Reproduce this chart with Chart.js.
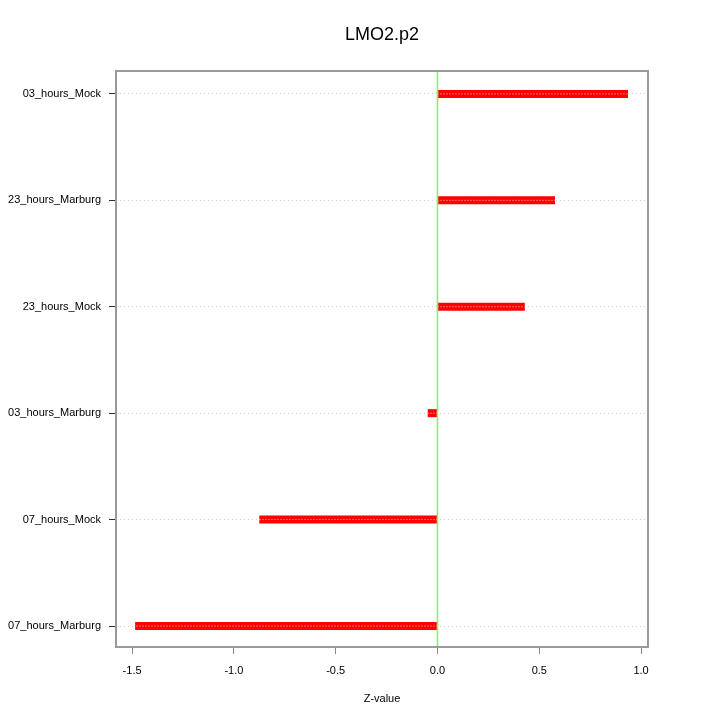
<!DOCTYPE html>
<html>
<head>
<meta charset="utf-8">
<title>LMO2.p2</title>
<script src="https://cdn.jsdelivr.net/npm/chart.js@4/dist/chart.umd.min.js"></script>
<style>
  html, body { margin: 0; padding: 0; background: #fff; }
  canvas { display: block; }
</style>
</head>
<body>
<canvas id="zChart" width="720" height="720"></canvas>
<script>
// data, bottom row first
const categories = ["07_hours_Marburg", "07_hours_Mock", "03_hours_Marburg", "23_hours_Mock", "23_hours_Marburg", "03_hours_Mock"];
const zValues = [-1.485, -0.875, -0.048, 0.429, 0.577, 0.936];
const xTicks = [-1.5, -1.0, -0.5, 0.0, 0.5, 1.0];
const xRange = [-1.579, 1.034];
const yRange = [0.803, 6.215];
const chartTitle = "LMO2.p2";
const xTitle = "Z-value";

const FONT = "'Liberation Sans', Arial, Helvetica, sans-serif";

// helpers
function buildDatasets() {
  const sets = [];
  // zero line (drawn on top)
  sets.push({
    data: [{ x: 0, y: yRange[0] }, { x: 0, y: yRange[1] }],
    borderColor: "#80f080",
    borderWidth: 1.6,
    pointRadius: 0
  });
  zValues.forEach((v, i) => {
    sets.push({
      data: [{ x: 0, y: i + 1 }, { x: v, y: i + 1 }],
      borderColor: "#ffd8d8",
      borderWidth: 1,
      borderDash: [1, 2],
      pointRadius: 0
    });
  });
  zValues.forEach((v, i) => {
    sets.push({
      data: [{ x: 0, y: i + 1 }, { x: v, y: i + 1 }],
      borderColor: "#ff0000",
      borderWidth: 8,
      borderCapStyle: "butt",
      pointRadius: 0
    });
  });
  return sets;
}

// frame and title
const framePlugin = {
  id: "frame",
  afterDraw(chart) {
    const { ctx, chartArea: a } = chart;
    ctx.save();
    ctx.strokeStyle = "#9a9a9a";
    ctx.lineWidth = 2;
    ctx.strokeRect(a.left, a.top, a.right - a.left, a.bottom - a.top);
    ctx.fillStyle = "#000";
    ctx.font = "18px " + FONT;
    ctx.textAlign = "center";
    ctx.textBaseline = "middle";
    ctx.fillText(chartTitle, (a.left + a.right) / 2, 35);
    ctx.restore();
  }
};

function initChart() {
  const ctx = document.getElementById("zChart").getContext("2d");
  new Chart(ctx, {
    type: "scatter",
    data: { datasets: buildDatasets() },
    options: {
      responsive: false,
      animation: false,
      devicePixelRatio: 1,
      showLine: true,
      layout: { padding: { top: 71, right: 72, bottom: 0, left: 0 } },
      plugins: {
        legend: { display: false },
        tooltip: { enabled: false },
        title: { display: false }
      },
      scales: {
        x: {
          type: "linear",
          min: xRange[0],
          max: xRange[1],
          afterBuildTicks: s => { s.ticks = xTicks.map(v => ({ value: v })); },
          afterFit: s => { s.height = 73; },
          grid: {
            drawOnChartArea: false,
            tickLength: 7,
            tickColor: "#888",
            tickWidth: 1
          },
          border: { display: false },
          ticks: {
            padding: 10,
            color: "#000",
            font: { family: FONT, size: 11 },
            maxRotation: 0,
            callback: v => v.toFixed(1)
          },
          title: {
            display: true,
            text: xTitle,
            color: "#000",
            font: { family: FONT, size: 11 },
            padding: { top: 0, bottom: 14 }
          }
        },
        y: {
          type: "linear",
          min: yRange[0],
          max: yRange[1],
          afterBuildTicks: s => { s.ticks = categories.map((c, i) => ({ value: i + 1 })); },
          afterFit: s => { s.width = 116; },
          grid: {
            color: "#cfcfcf",
            lineWidth: 1,
            tickLength: 7,
            tickColor: "#333",
            tickWidth: 1,
            tickBorderDash: []
          },
          border: { display: false, dash: [1, 3] },
          ticks: {
            padding: 8,
            color: "#000",
            font: { family: FONT, size: 11 },
            callback: v => categories[Math.round(v) - 1]
          }
        }
      }
    },
    plugins: [framePlugin]
  });
}

initChart();
</script>
</body>
</html>
